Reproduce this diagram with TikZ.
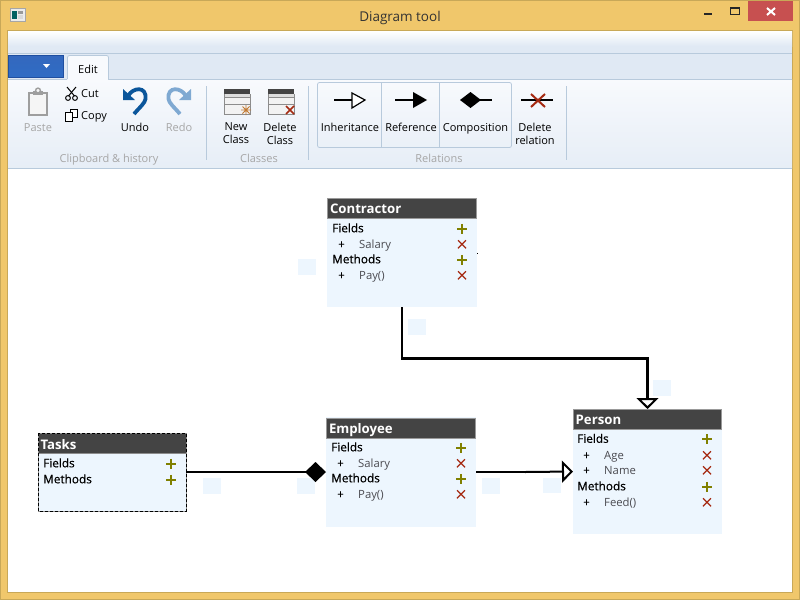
\documentclass[tikz,border=0pt]{standalone}
\usepackage{fontspec}
\setmainfont{Open Sans}
\newfontfamily\semifont[FakeBold=0.4]{Open Sans}
\usetikzlibrary{arrows.meta}
\definecolor{frame}{HTML}{F0C76B}
\definecolor{frameedge}{HTML}{C8A858}
\definecolor{ribbonlight}{HTML}{F8FAFD}
\definecolor{ribbonband}{HTML}{E0E9F4}
\definecolor{ribbonedge}{HTML}{B8CADC}
\definecolor{boxfill}{HTML}{EDF6FE}
\definecolor{headfill}{HTML}{444444}
\definecolor{plusc}{HTML}{808000}
\definecolor{crossc}{HTML}{A52A12}
\definecolor{greytext}{HTML}{A6A6A6}
\definecolor{undoblue}{HTML}{0B569B}
\definecolor{redoblue}{HTML}{7FA9D2}
\definecolor{membertext}{HTML}{4A4A50}
\definecolor{closered}{HTML}{C75050}
\definecolor{btntop}{HTML}{3468BE}
\definecolor{btnmid}{HTML}{1F4FA0}
\definecolor{btnbot}{HTML}{2F6CC4}
\tikzset{
  x=1pt,y=-1pt,
  classbox/.style={draw=none,fill=boxfill,inner sep=0pt,outer sep=0pt,minimum width=#1},
  head/.style={draw=black!40,line width=.8pt,fill=headfill,anchor=north west,outer sep=0pt,inner ysep=0pt,text=white,text height=11pt,text depth=1pt,font=\fontsize{13.2}{14}\selectfont\bfseries,align=left},
  hdrtext/.style={anchor=base west,inner sep=0pt,text=black,font=\fontsize{11.8}{12}\selectfont\semifont},
  signtext/.style={anchor=base,inner sep=0pt,font=\fontsize{11.5}{12}\selectfont\semifont},
  membertxt/.style={anchor=base west,inner sep=0pt,text=membertext,font=\fontsize{11.3}{12}\selectfont},
  ribbontext/.style={anchor=base,inner sep=0pt,font=\fontsize{11}{13}\selectfont,align=center},
  twoline/.style={ribbontext,anchor=center},
  greylabel/.style={ribbontext,text=greytext},
  rel/.style={line width=2.5pt,draw=black},
  inherit/.style={-{Triangle[open,fill=white,length=11pt,width=22pt,line width=2pt]}},
  compose/.style={-{Diamond[length=21pt,width=20pt,fill=black]}},
  patch/.style={fill=boxfill,draw=none},
  sep/.style={draw=ribbonedge,line width=.8pt},
  icon/.style={line width=1pt,draw=black},
}
\newcommand{\addicon}[2]{\draw[plusc,line width=1.8pt] (#1-5,#2)--(#1+5,#2) (#1,#2-5)--(#1,#2+5);}
\newcommand{\delicon}[2]{\draw[crossc,line width=1.3pt] (#1-4,#2-4)--(#1+4,#2+4) (#1-4,#2+4)--(#1+4,#2-4);}
% name, x, y, text, icon x
\newcommand{\secrow}[5]{\node[hdrtext] (#1) at (#2,#3+4.3) {#4}; \addicon{#5}{#3+.8}}
\newcommand{\memrow}[5]{\node[signtext] (#1s) at (#2+9.5,#3+4.3) {+}; \node[membertxt] (#1) at (#2+27,#3+4.3) {#4}; \delicon{#5}{#3+.3}}
\newcommand{\tableicon}[2]{%
  \fill[white!95!black] (#1,#2) rectangle ++(26,25);
  \fill[headfill] (#1,#2) rectangle ++(26,4.5);
  \fill[black!13] (#1,#2+4.5) rectangle ++(26,3);
  \draw[black!45,line width=.7pt] (#1,#2+4.5)--++(0,20.5)--++(26,0)--++(0,-20.5) (#1,#2+8)--++(26,0) (#1,#2+15)--++(26,0);
}
\begin{document}
\begin{tikzpicture}
\useasboundingbox (0,0) rectangle (800,600);
% window
\fill[frameedge] (0,0) rectangle (800,600);
\fill[frame] (1,1) rectangle (799,599);
\fill[white] (8,31) rectangle (792,592);
\draw[frameedge,line width=.8pt] (7.5,30.5) rectangle (792.5,592.5);
\node[anchor=base,inner sep=0pt,text=black!80,font=\fontsize{13.5}{14}\selectfont] (title) at (400,21) {Diagram tool};
% app icon
\fill[black!8] (10,8) rectangle (25,21);
\draw[black!35,line width=.6pt] (10,8) rectangle (25,21);
\fill[teal!75!black] (12,11) rectangle (17,19);
\fill[black!40] (18,11) rectangle (23,14);
\fill[black!15] (18,15) rectangle (23,19);
% window buttons
\fill[closered] (748,1) rectangle (793,21);
\draw[white,line width=2pt] (767,8)--(775,15) (767,15)--(775,8);
\fill[black!85] (704,13) rectangle (712,15);
\draw[black!85,line width=1pt] (730.5,7.5) rectangle (739.5,14.5);
\fill[black!85] (730,7) rectangle (740,9);
% ribbon
\shade[top color=white,bottom color=ribbonband] (8,31) rectangle (792,46);
\fill[ribbonband] (8,46) rectangle (792,79);
\draw[ribbonedge,line width=.8pt] (8,53)--(792,53);
\shade[top color=ribbonlight,bottom color=ribbonband!80] (8,79) rectangle (792,168);
\draw[ribbonedge,line width=.8pt] (8,79)--(67,79) (108,79)--(792,79);
\draw[ribbonedge,line width=1pt] (8,168.5)--(792,168.5);
% blue menu button
\shade[top color=btntop,middle color=btnmid,bottom color=btnbot] (8,55) rectangle (63,77);
\draw[btnmid,line width=.8pt] (8,55) rectangle (63,77);
\fill[white] (43,64)--(50,64)--(46.5,68)--cycle;
% edit tab
\draw[ribbonedge,line width=.8pt,fill=ribbonlight,rounded corners=2pt] (67.5,79)--(67.5,55.5)--(108.5,55.5)--(108.5,79);
\fill[ribbonlight] (68,78) rectangle (108,80);
\node[ribbontext] (edit) at (88,73) {Edit};
% clipboard group
\draw[black!38,line width=1.6pt,fill=black!4] (29,93) rectangle (47,115);
\fill[black!38] (33,91) rectangle (43,95);
\draw[black!38,line width=1.4pt,fill=black!4] (38,90.5) circle[radius=2.4];
\node[greylabel] (paste) at (38,131) {Paste};
\draw[icon] (67,87)--(74.5,96) (76,87)--(68.5,96);
\draw[icon] (68,98) circle[radius=2.4] (75,98) circle[radius=2.4];
\node[ribbontext,anchor=base west] (cut) at (81,97) {Cut};
\draw[icon,fill=white] (70,109) rectangle (77,117);
\draw[icon,fill=white] (65.5,112) rectangle (72.5,121);
\node[ribbontext,anchor=base west] (copy) at (81,119) {Copy};
\draw[undoblue,line width=3.8pt] (128,96) .. controls (133,87) and (147,86) .. (145.5,99) .. controls (145,103) and (140,107) .. (134,114);
\fill[undoblue] (123,89)--(123,100)--(135,100)--cycle;
\node[ribbontext] (undo) at (135,131) {Undo};
\draw[redoblue,line width=3.8pt] (186,96) .. controls (181,87) and (167,86) .. (168.5,99) .. controls (169,103) and (174,107) .. (180,114);
\fill[redoblue] (191,89)--(191,100)--(179,100)--cycle;
\node[greylabel] (redo) at (179,131) {Redo};
\node[greylabel] (clip) at (109,162) {Clipboard \& history};
\draw[sep] (206.5,86)--(206.5,160);
% classes group
\tableicon{224}{89}
\draw[orange!70!black!80,line width=.9pt] (241,110)--(251,110) (246,105)--(246,115) (242.5,106.5)--(249.5,113.5) (242.5,113.5)--(249.5,106.5);
\node[twoline] (newc) at (236,133.5) {New\\Class};
\tableicon{268}{89}
\draw[crossc,line width=1.6pt] (286,106)--(294,114) (286,114)--(294,106);
\node[twoline] (delc) at (280,133.5) {Delete\\Class};
\node[greylabel] (classes) at (259,162) {Classes};
\draw[sep] (308.5,86)--(308.5,160);
% relations group
\draw[ribbonedge,line width=.8pt,rounded corners=2pt] (317.5,82.5) rectangle (511.5,147.5);
\draw[ribbonedge,line width=.8pt] (381.5,82.5)--(381.5,147.5) (439.5,82.5)--(439.5,147.5);
\draw[line width=1.2pt] (334,100)--(352,100);
\draw[line width=1.2pt,fill=white] (352,93)--(365,100)--(352,108)--cycle;
\draw[line width=1.2pt] (395,100)--(413,100);
\fill[black] (413,92)--(427,100)--(413,108)--cycle;
\fill[black] (460,100)--(470.5,92)--(481,100)--(470.5,108)--cycle;
\draw[line width=1.2pt] (478,100)--(492,100);
\draw[line width=1.2pt] (521,100)--(553,100);
\draw[crossc,line width=2pt] (531,94)--(545,107) (531,107)--(545,94);
\node[ribbontext] (inh) at (350,131) {Inheritance};
\node[ribbontext] (refr) at (411,131) {Reference};
\node[ribbontext] (comp) at (475.5,131) {Composition};
\node[twoline] (delr) at (535,133.5) {Delete\\relation};
\node[greylabel] (relations) at (439,162) {Relations};
\draw[sep] (566.5,86)--(566.5,160);
% stray patches
\fill[patch] (298,259) rectangle (316,275);
\fill[patch] (408,319) rectangle (426,335);
\fill[patch] (653,380) rectangle (671,396);
\fill[patch] (203,478) rectangle (221,494);
\fill[patch] (297,478) rectangle (315,494);
\fill[patch] (482,478) rectangle (500,494);
\fill[patch] (543,478) rectangle (561,493);
\fill[black] (477,252.5) rectangle (478,254);
% class boxes
\node[classbox=150pt,minimum height=109pt] (contractor) at (402,252.5) {};
\node[classbox=150pt,minimum height=110pt] (employee) at (401,472) {};
\node[classbox=149pt,minimum height=125pt] (person) at (647.5,471.5) {};
\node[classbox=148pt,minimum height=78pt] (tasks) at (112,472) {};
% headers
\node[head,minimum width=149pt,minimum height=20pt,text width=144pt,inner xsep=2.5pt] (hc) at (327.5,198.5) {Contractor};
\node[head,minimum width=149pt,minimum height=20pt,text width=144pt,inner xsep=2.5pt] (he) at (326.5,418) {Employee};
\node[head,minimum width=148pt,minimum height=20pt,text width=143pt,inner xsep=2pt] (hp) at (573.2,409.6) {Person};
\node[head,draw=none,minimum width=148pt,minimum height=20pt,text width=143pt,inner xsep=2.5pt] (ht) at (38,434) {Tasks};
\draw[black!45,line width=.8pt] (38,453.5)--(186,453.5);
% contractor rows
\secrow{cf}{332}{228}{Fields}{462}
\memrow{cs}{332}{244}{Salary}{462}
\secrow{cm}{332}{259}{Methods}{462}
\memrow{cp}{332}{275}{Pay()}{462}
% employee rows
\secrow{ef}{331}{447}{Fields}{461}
\memrow{es}{331}{463}{Salary}{461}
\secrow{em}{331}{478}{Methods}{461}
\memrow{ep}{331}{494}{Pay()}{461}
% person rows
\secrow{pf}{577}{438.5}{Fields}{707}
\memrow{pa}{577}{455}{Age}{707}
\memrow{pn}{577}{470}{Name}{707}
\secrow{pm}{577}{486}{Methods}{707}
\memrow{pe}{577}{502}{Feed()}{707}
% tasks rows
\secrow{tf}{43}{463}{Fields}{171}
\secrow{tm}{43}{479}{Methods}{171}
% selection outline of Tasks
\draw[black!45,line width=.6pt] (tasks.north west) rectangle (tasks.south east);
\draw[black,line width=1pt,dash pattern=on 3pt off 2pt] (tasks.north west) rectangle (tasks.south east);
% connectors
\draw[rel,inherit] (contractor.south) -- ++(0,51.5) coordinate (bend) -| (person.north);
\draw[rel,compose] (tasks.east) -- (employee.west);
\coordinate (thin) at (525,472);
\draw[rel] (employee.east) -- (thin);
\draw[rel,line width=2pt,inherit] (thin) -- (person.west);
\end{tikzpicture}
\end{document}
